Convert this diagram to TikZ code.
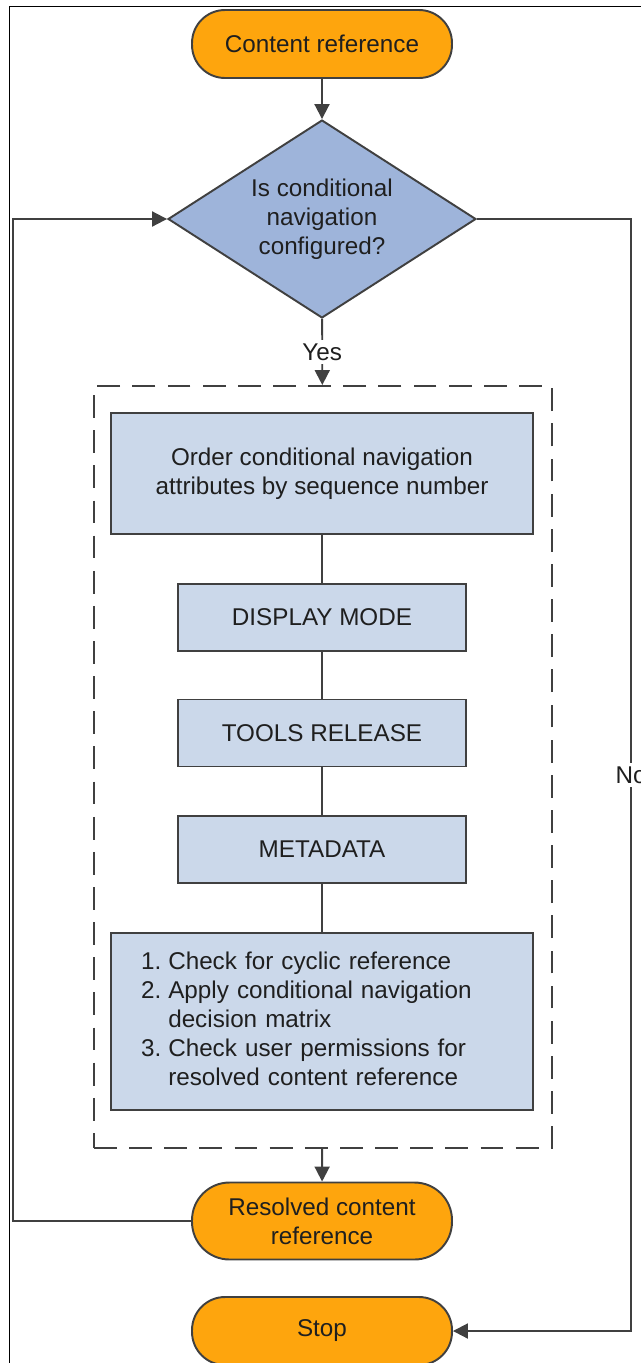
\documentclass[tikz,border=0pt]{standalone}
\usepackage{fontspec}
\setmainfont{Liberation Sans}
\usetikzlibrary{shapes.geometric, arrows.meta, positioning}

\definecolor{crorange}{RGB}{254,165,13}
\definecolor{decblue}{RGB}{158,180,218}
\definecolor{stepblue}{RGB}{203,216,234}
\definecolor{linegray}{RGB}{64,64,64}

\begin{document}
\begin{tikzpicture}[
    x=0.02cm, y=-0.02cm,
    every node/.style={font=\fontsize{13.8}{16.6}\selectfont, text=black!88},
    terminal/.style={rectangle, draw=linegray, line width=1.1pt, fill=crorange, rounded corners=0.66cm, minimum width=5.2cm, minimum height=1.36cm, align=center},
    decision/.style={diamond, draw=linegray, line width=1.1pt, fill=decblue, minimum width=6.16cm, minimum height=3.96cm, aspect=1.55, inner sep=0pt, align=center},
    stepbox/.style={rectangle, draw=linegray, line width=1.1pt, fill=stepblue, minimum width=5.76cm, minimum height=1.34cm, align=center},
    widebox/.style={stepbox, minimum width=8.44cm},
    group/.style={rectangle, draw=linegray, line width=1.2pt, dash pattern=on 13pt off 7pt, minimum width=9.16cm, minimum height=15.24cm},
    line/.style={draw=linegray, line width=1.1pt},
    arrow/.style={line, -{Triangle[length=3mm, width=3mm]}},
    label/.style={fill=white, inner sep=2pt},
]
\useasboundingbox (0,0) rectangle (641,1363);
% frame
\draw[line width=0.6pt] (9.5,1363) -- (9.5,6.5) -- (641,6.5);

\node[terminal] (start) at (322,44) {Content reference};
\node[decision] (check) at (322,219) {Is conditional\\navigation\\configured?};
\node[group] (steps) at (323,767) {};
\node[widebox, minimum height=2.42cm] (order) at (322,473.5) {Order conditional navigation\\attributes by sequence number};
\node[stepbox] (display) at (322,617.5) {DISPLAY MODE};
\node[stepbox] (tools) at (322,733) {TOOLS RELEASE};
\node[stepbox] (meta) at (322,849.5) {METADATA};
\node[widebox, minimum height=3.54cm, inner xsep=0.6cm, text width=7.24cm, align=left] (resolve) at (322,1021.5)
    {\noindent\begin{tabular}{@{}l@{\hspace{4pt}}l@{}}
    1. & Check for cyclic reference\\
    2. & Apply conditional navigation\\
       & decision matrix\\
    3. & Check user permissions for\\
       & resolved content reference
    \end{tabular}};
\node[terminal, minimum height=1.54cm, rounded corners=0.75cm] (result) at (322,1221) {Resolved content\\reference};
\node[terminal] (stop) at (322,1331) {Stop};

\coordinate (looplow) at (13,1221);
\coordinate (loophigh) at (13,219);
\coordinate (noturn) at (631,219);
\coordinate (nobend) at (631,1331);

\draw[arrow] (start) -- (check);
\draw[arrow] (check) -- node[label]{Yes} (steps);
\draw[line] (order) -- (display);
\draw[line] (display) -- (tools);
\draw[line] (tools) -- (meta);
\draw[line] (meta) -- (resolve);
\draw[arrow] (steps) -- (result);
\draw[arrow] (result.west) -- (looplow) -- (loophigh) -- (check.west);
\draw[arrow] (check.east) -- (noturn) -- node[label]{No} (nobend) -- (stop.east);

\end{tikzpicture}
\end{document}
